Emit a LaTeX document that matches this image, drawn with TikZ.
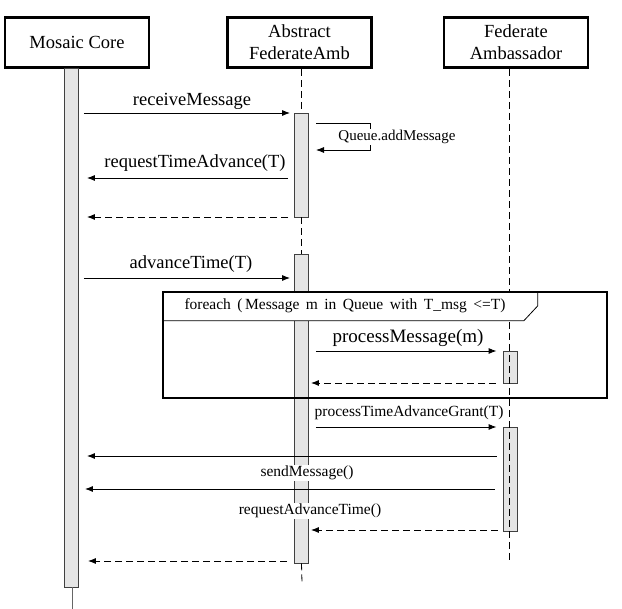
\documentclass[tikz,border=0pt]{standalone}
\usepackage{fontspec}
\setmainfont{Liberation Serif}
\usetikzlibrary{arrows.meta}
\begin{document}
\begin{tikzpicture}[x=1pt,y=-1pt,
  actor/.style={draw, line width=2.8pt, fill=white, align=center, inner sep=0pt,
    minimum width=144pt, minimum height=50pt, font=\fontsize{18.5}{22}\selectfont},
  bar/.style={draw=black!75, line width=0.8pt, fill=black!10, inner sep=0pt, minimum width=14pt},
  life/.style={line width=0.8pt, dash pattern=on 7pt off 4pt},
  msg/.style={-{Latex[length=8pt,width=6pt]}, line width=0.9pt},
  ret/.style={msg, dash pattern=on 7pt off 4pt},
  lbl/.style={anchor=base, inner sep=1pt},
  lblbig/.style={lbl, font=\fontsize{18.5}{20}\selectfont},
  lblsmall/.style={lbl, font=\fontsize{15.5}{18}\selectfont},
  frametab/.style={line width=0.8pt, fill=white},
  loopframe/.style={line width=2.5pt}
]
\useasboundingbox (0,0) rectangle (622,609);

% actors
\node[actor] (mc) at (77,42.5) {Mosaic Core};
\node[actor] (af) at (299.5,42.5) {Abstract\\FederateAmb};
\node[actor] (fa) at (516,42.5) {Federate\\Ambassador};

% activation bars
\node[bar, minimum height=519pt] (mcbar) at (71.5,327.5) {};
\node[bar, minimum height=104pt] (ab1) at (301.5,165) {};
\node[bar, minimum height=309pt] (ab2) at (301.5,408.5) {};
\node[bar, minimum height=32pt] (fb1) at (510,367) {};
\node[bar, minimum height=104pt] (fb2) at (510,479) {};

% lifelines
\coordinate (abend) at (302,583);
\coordinate (faend) at (509,560);
\coordinate (mcend) at (72,609);
\draw[life] (ab1.north |- af.south) -- (ab1.north);
\draw[life] (ab1.south) -- (ab2.north);
\draw[life] (ab2.south) -- (abend);
\draw[life] (faend |- fa.south) -- (faend);
\draw[line width=0.9pt, black!60] (mcend |- mcbar.south) -- (mcend);

% loop frame
\node[inner sep=0pt, minimum width=444pt, minimum height=106pt] (loop) at (385,345) {};
\draw[frametab] (loop.north west) -- ++(375,0) -- ++(0,14) -- ++(-14,15) -- ++(-361,0) -- cycle;
\draw[loopframe] (loop.north west) rectangle (loop.south east);
\node[lblsmall] (loopl) at (345,310) {foreach \,(\,Message \,m \,in \,Queue \,with \,T\_msg \,<=T)};

% messages
\draw[msg, shorten <=5pt, shorten >=4pt] (mcbar.east |- 0,113) -- (ab1.west |- 0,113);
\node[lblbig] (l1) at (192,106) {receiveMessage};

\coordinate (sq1) at (316,123);
\coordinate (sq2) at (370,123);
\coordinate (sq3) at (370,150);
\coordinate (sq4) at (316,150);
\draw[msg, line width=0.8pt] (sq1) -- (sq2) -- (sq3) -- (sq4);
\node[lbl, fill=white, font=\fontsize{15}{18}\selectfont] (l2) at (397,140.5) {Queue.addMessage};

\draw[msg, shorten <=6pt, shorten >=8pt] (ab1.west |- 0,178) -- (mcbar.east |- 0,178);
\node[lblbig] (l3) at (195,168) {requestTimeAdvance(T)};

\draw[ret, shorten <=6pt, shorten >=8pt] (ab1.west |- 0,217) -- (mcbar.east |- 0,217);

\draw[msg, shorten <=5pt, shorten >=4pt] (mcbar.east |- 0,278) -- (ab2.west |- 0,278);
\node[lblbig] (l4) at (191,269) {advanceTime(T)};

\draw[msg, shorten <=7pt, shorten >=6pt] (ab2.east |- 0,351) -- (fb1.west |- 0,351);
\node[lbl, font=\fontsize{19}{22}\selectfont] (l5) at (408,342.5) {processMessage(m)};

\draw[ret, shorten <=7pt, shorten >=2pt] (fb1.west |- 0,383) -- (ab2.east |- 0,383);

\draw[msg, shorten <=7pt, shorten >=6pt] (ab2.east |- 0,427) -- (fb2.west |- 0,427);
\node[lblsmall] (l6) at (409,417) {processTimeAdvanceGrant(T)};

\draw[msg, shorten <=6pt, shorten >=8pt] (fb2.west |- 0,456) -- (mcbar.east |- 0,456);

\draw[msg, shorten <=8pt, shorten >=6pt] (fb2.west |- 0,489) -- (mcbar.east |- 0,489);
\node[lblsmall, fill=white] (l7) at (307,477) {sendMessage()};

\draw[ret, shorten <=5pt, shorten >=2pt] (fb2.west |- 0,530) -- (ab2.east |- 0,530);
\node[lblsmall, fill=white] (l8) at (310,515) {requestAdvanceTime()};

\draw[ret, shorten <=7pt, shorten >=9pt] (ab2.west |- 0,561) -- (mcbar.east |- 0,561);
\end{tikzpicture}
\end{document}
